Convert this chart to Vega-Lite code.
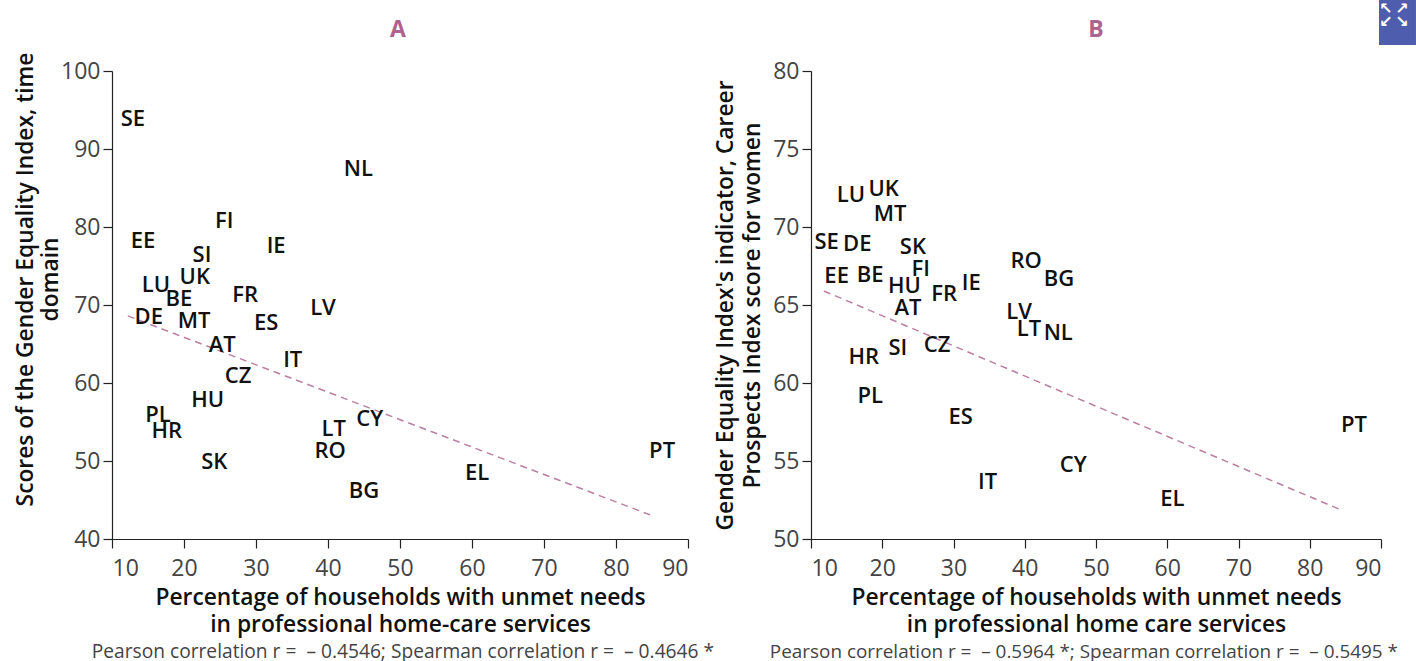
{"$schema":"https://vega.github.io/schema/vega-lite/v6.json","padding":{"left":14,"top":0,"right":0,"bottom":0},"background":"white","config":{"view":{"stroke":null},"font":"Open Sans","axis":{"grid":false,"domainColor":"#222","tickColor":"#222","tickSize":9,"domainWidth":1.2,"tickWidth":1.2,"labelFont":"Open Sans","labelFontSize":23,"labelColor":"#444","labelPadding":3,"titleFont":"Open Sans","titleFontSize":22.8,"titleFontWeight":600,"titleColor":"#111","titleLineHeight":27}},"spacing":-1,"hconcat":[{"width":576,"height":468,"layer":[{"data":{"values":[{"x":12.2,"y":68.6},{"x":85,"y":43}]},"mark":{"type":"line","stroke":"#BC7F9F","strokeWidth":1.5,"strokeDash":[7,5]},"encoding":{"x":{"field":"x","type":"quantitative","scale":{"domain":[10,90],"nice":false},"axis":{"values":[10,20,30,40,50,60,70,80,90],"labelPadding":9,"title":["Percentage of households with unmet needs","in professional home-care services"],"titlePadding":6}},"y":{"field":"y","type":"quantitative","scale":{"domain":[40,100],"nice":false,"zero":false},"axis":{"values":[40,50,60,70,80,90,100],"title":["Scores of the Gender Equality Index, time","domain"],"titlePadding":-2,"titleLineHeight":25,"titleY":208}}}},{"data":{"values":[{"c":"SE","x":12.9,"y":94},{"c":"NL","x":44.2,"y":87.6},{"c":"FI","x":25.6,"y":80.9},{"c":"EE","x":14.3,"y":78.3},{"c":"IE","x":32.8,"y":77.7},{"c":"SI","x":22.5,"y":76.5},{"c":"UK","x":21.5,"y":73.7},{"c":"LU","x":16.1,"y":72.7},{"c":"BE","x":19.3,"y":70.9},{"c":"FR","x":28.5,"y":71.4},{"c":"LV","x":39.3,"y":69.7},{"c":"DE","x":15.1,"y":68.6},{"c":"MT","x":21.4,"y":68.1},{"c":"ES","x":31.4,"y":67.8},{"c":"AT","x":25.3,"y":65},{"c":"IT","x":35.1,"y":63.1},{"c":"CZ","x":27.5,"y":61},{"c":"HU","x":23.3,"y":57.9},{"c":"PL","x":16.4,"y":56},{"c":"HR","x":17.6,"y":54},{"c":"CY","x":45.8,"y":55.5},{"c":"LT","x":40.8,"y":54.2},{"c":"RO","x":40.3,"y":51.4},{"c":"SK","x":24.2,"y":50},{"c":"PT","x":86.4,"y":51.4},{"c":"EL","x":60.7,"y":48.6},{"c":"BG","x":45,"y":46.3}]},"mark":{"type":"text","fontSize":22,"fontWeight":600,"color":"#111","align":"center","baseline":"middle","dy":1},"encoding":{"x":{"field":"x","type":"quantitative"},"y":{"field":"y","type":"quantitative"},"text":{"field":"c"}}},{"data":{"values":[{"note":"Pearson correlation r =\u00a0\u00a0– 0.4546; Spearman correlation r =\u00a0\u00a0– 0.4646 *"}]},"mark":{"type":"text","fontSize":19.2,"color":"#444","align":"center","baseline":"middle","dy":113},"encoding":{"x":{"datum":50.4},"y":{"datum":40},"text":{"field":"note"}}},{"data":{"values":[{"t":"A"}]},"mark":{"type":"text","fontSize":23,"fontWeight":700,"color":"#B0628F","align":"center","baseline":"middle","dy":-41},"encoding":{"x":{"datum":49.7},"y":{"datum":100},"text":{"field":"t"}}}]},{"width":570,"height":468,"layer":[{"data":{"values":[{"x":11.8,"y":65.9},{"x":84.2,"y":51.9}]},"mark":{"type":"line","stroke":"#BC7F9F","strokeWidth":1.5,"strokeDash":[7,5]},"encoding":{"x":{"field":"x","type":"quantitative","scale":{"domain":[10,90],"nice":false},"axis":{"values":[10,20,30,40,50,60,70,80,90],"labelPadding":9,"title":["Percentage of households with unmet needs","in professional home care services"],"titlePadding":6}},"y":{"field":"y","type":"quantitative","scale":{"domain":[50,80],"nice":false,"zero":false},"axis":{"values":[50,55,60,65,70,75,80],"title":["Gender Equality Index's indicator, Career","Prospects Index score for women"],"titlePadding":8}}}},{"data":{"values":[{"c":"LU","x":15.6,"y":72.1},{"c":"UK","x":20.2,"y":72.5},{"c":"MT","x":21.1,"y":70.9},{"c":"SE","x":12.2,"y":69.1},{"c":"DE","x":16.5,"y":69},{"c":"SK","x":24.3,"y":68.8},{"c":"RO","x":40.2,"y":67.9},{"c":"BG","x":44.8,"y":66.7},{"c":"FI","x":25.4,"y":67.4},{"c":"IE","x":32.5,"y":66.5},{"c":"EE","x":13.6,"y":66.9},{"c":"BE","x":18.3,"y":67},{"c":"HU","x":23.1,"y":66.3},{"c":"FR","x":28.7,"y":65.8},{"c":"AT","x":23.6,"y":64.9},{"c":"LV","x":39.2,"y":64.6},{"c":"LT","x":40.6,"y":63.5},{"c":"NL","x":44.7,"y":63.3},{"c":"CZ","x":27.7,"y":62.5},{"c":"SI","x":22.2,"y":62.3},{"c":"HR","x":17.4,"y":61.7},{"c":"PL","x":18.3,"y":59.2},{"c":"ES","x":31,"y":57.9},{"c":"IT","x":34.8,"y":53.7},{"c":"CY","x":46.8,"y":54.8},{"c":"EL","x":60.7,"y":52.6},{"c":"PT","x":86.2,"y":57.4}]},"mark":{"type":"text","fontSize":22,"fontWeight":600,"color":"#111","align":"center","baseline":"middle","dy":1},"encoding":{"x":{"field":"x","type":"quantitative"},"y":{"field":"y","type":"quantitative"},"text":{"field":"c"}}},{"data":{"values":[{"note":"Pearson correlation r =\u00a0\u00a0– 0.5964 *; Spearman correlation r =\u00a0\u00a0– 0.5495 *"}]},"mark":{"type":"text","fontSize":18.9,"color":"#444","align":"center","baseline":"middle","dy":113},"encoding":{"x":{"datum":48.3},"y":{"datum":50},"text":{"field":"note"}}},{"data":{"values":[{"t":"B"}]},"mark":{"type":"text","fontSize":23,"fontWeight":700,"color":"#B0628F","align":"center","baseline":"middle","dy":-41},"encoding":{"x":{"datum":50},"y":{"datum":80},"text":{"field":"t"}}},{"data":{"values":[{"a":89.72,"b":94.91,"c":84.55,"d":81.67}]},"mark":{"type":"rect","color":"#4F5DAE"},"encoding":{"x":{"field":"a","type":"quantitative"},"x2":{"field":"b"},"y":{"field":"c","type":"quantitative"},"y2":{"field":"d"}}},{"data":{"values":[{"g":"↖","x":90.7,"y":83.98},{"g":"↗","x":92.95,"y":83.98},{"g":"↙","x":90.7,"y":83.15},{"g":"↘","x":92.95,"y":83.15}]},"mark":{"type":"text","font":"DejaVu Sans","fontSize":16,"fontWeight":700,"color":"white","align":"center","baseline":"middle"},"encoding":{"x":{"field":"x","type":"quantitative"},"y":{"field":"y","type":"quantitative"},"text":{"field":"g"}}}]}]}
